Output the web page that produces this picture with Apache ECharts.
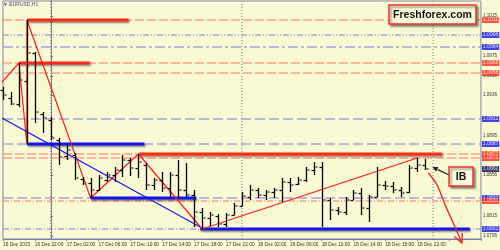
<!DOCTYPE html>
<html><head><meta charset="utf-8">
<script src="https://cdn.jsdelivr.net/npm/echarts@6/dist/echarts.min.js"></script>
<style>html,body{margin:0;padding:0;background:#f9f9d3}#c{width:500px;height:250px}</style>
</head><body><div id="c"></div>
<script>
const symbolTitle = '\u25BC EURUSD,H1';
const firstBarHour = -6; // 16 Dec 18:00, hours relative to 17 Dec 00:00
const barOpen  = [1.0941,1.0933,1.0927,1.0950,1.0978,1.0917,1.0911,1.0891,1.0875,1.0876,1.0852,1.0848,1.0841,1.0851,1.0856,1.0861,1.0871,1.0863,1.0866,1.0846,1.0851,1.0843,1.0856,1.0841,1.0836,1.0819,1.0813,1.0815,1.0807,1.0816,1.0825,1.0834,1.0841,1.0836,1.0839,1.0841,1.0849,1.0847,1.0851,1.0861,1.0864,1.0831,1.0821,1.0819,1.0831,1.0838,1.0823,1.0834,1.0846,1.0845,1.0841,1.0839,1.0863,1.0866];
const barHigh  = [1.0944,1.0939,1.0968,1.1011,1.0979,1.0919,1.0914,1.0893,1.0886,1.0878,1.0854,1.0853,1.0856,1.0859,1.0864,1.0876,1.0873,1.0877,1.0868,1.0853,1.0859,1.0859,1.0871,1.0868,1.0841,1.0823,1.0819,1.0817,1.0818,1.0828,1.0839,1.0846,1.0843,1.0841,1.0843,1.0853,1.0853,1.0854,1.0864,1.0869,1.0869,1.0833,1.0824,1.0834,1.0841,1.0843,1.0836,1.0864,1.0850,1.0849,1.0844,1.0866,1.0873,1.0872];
const barLow   = [1.0931,1.0926,1.0924,1.0887,1.0908,1.0898,1.0891,1.0866,1.0871,1.0851,1.0846,1.0833,1.0840,1.0849,1.0849,1.0854,1.0855,1.0853,1.0841,1.0841,1.0839,1.0834,1.0834,1.0834,1.0804,1.0802,1.0805,1.0804,1.0804,1.0816,1.0825,1.0831,1.0833,1.0831,1.0833,1.0829,1.0839,1.0846,1.0849,1.0856,1.0804,1.0811,1.0816,1.0816,1.0831,1.0816,1.0809,1.0834,1.0841,1.0838,1.0834,1.0838,1.0859,1.0861];
const barClose = [1.0936,1.0927,1.0951,1.0978,1.0919,1.0913,1.0893,1.0874,1.0881,1.0853,1.0848,1.0841,1.0853,1.0856,1.0861,1.0871,1.0863,1.0869,1.0846,1.0851,1.0843,1.0856,1.0841,1.0836,1.0819,1.0813,1.0816,1.0807,1.0816,1.0825,1.0835,1.0841,1.0836,1.0839,1.0841,1.0849,1.0846,1.0851,1.0861,1.0864,1.0831,1.0821,1.0819,1.0831,1.0838,1.0823,1.0834,1.0846,1.0845,1.0841,1.0838,1.0863,1.0866,1.0862];

const levelPrices = [1.1011, 1.0996, 1.0984, 1.0968, 1.0958, 1.0912, 1.0887, 1.0877, 1.0873, 1.0833, 1.0830, 1.0802];
const levelKinds  = ['r','b','b','r','r','b','b','r','r','b','r','b'];
const levelDashes = [[9,3],[6,2,1,2,1,2],[10,3,3,3],[9,3],[9,3],[10,4],[10,4],[9,3],[9,3],[10,4],[6,2,1,2],[6,2,1,2]];
const currentPrice = 1.0862;

const thickPrices = [1.1011, 1.0968, 1.0887, 1.0833, 1.0877, 1.0802];
const thickFrom   = [-3, -4, -3, 5, 11.1, 18.75];
const thickTo     = [9.75, 4.9, 11.75, 18.25, 49.1, 52.6];
const thickKinds  = ['r','r','b','b','r','b'];

const zigzagHour  = [-7, -4, -3, -3, 5, 11, 19, 46];
const zigzagPrice = [1.0941, 1.0968, 1.0887, 1.1011, 1.0833, 1.0877, 1.0802, 1.0873];
const trendHour  = [-6.125, 18.75];
const trendPrice = [1.0913, 1.0804];
const daySeparators = [0, 24, 48];
const priceTicks = [1.1015, 1.0975, 1.0955, 1.0936, 1.0895, 1.0856, 1.0815, 1.0795];
const lastLabelHour = 47;
const xMin = -6, xMax = 54, yMin = 1.0792, yMax = 1.1030;

const ibTip = [47.9, 1.0864], ibTail = [50, 1.0856], ibBox = [51.5, 1.08545];
const forecastHour  = [47.4, 48.5, 49.5, 50.75, 51.6];
const forecastPrice = [1.0858, 1.0846, 1.0826, 1.0804, 1.0788];

const barHours = barOpen.map((_, i) => firstBarHour + i);
const RED = '#ff2a1a', BLUE = '#1414f0', SALMON = '#ff7566', SLATE = '#7878e6';
const FONT = '"Liberation Sans", Arial, sans-serif';

function timeLabel(h) {
  if (h > lastLabelHour) return '';
  if (h === firstBarHour) return '16 Dec 2015';
  const day = 17 + Math.floor(h / 24);
  const hr = ((h % 24) + 24) % 24;
  return day + ' Dec ' + String(hr).padStart(2, '0') + ':00';
}

const series = [];
// day separators
daySeparators.forEach(h => series.push({
  type: 'line', data: [[h, yMin], [h, yMax]], symbol: 'none', silent: true, z: 1,
  lineStyle: { color: '#7a7a7a', type: [1, 2], width: 1 }
}));
// horizontal levels
levelPrices.forEach((p, i) => series.push({
  type: 'line', data: [[xMin, p], [xMax, p]], symbol: 'none', silent: true, z: 2,
  lineStyle: { color: levelKinds[i] === 'r' ? SALMON : SLATE, width: 1, type: levelDashes[i] }
}));
// thick segments
thickPrices.forEach((p, i) => series.push({
  type: 'line', data: [[thickFrom[i], p], [thickTo[i], p]], symbol: 'none', silent: true, z: 3,
  lineStyle: { color: thickKinds[i] === 'r' ? RED : BLUE, width: 3, shadowColor: 'rgba(0,0,0,0.45)', shadowBlur: 2, shadowOffsetX: 1, shadowOffsetY: 1.5 }
}));
series.push({
  type: 'line', data: zigzagHour.map((h, i) => [h, zigzagPrice[i]]), symbol: 'none', silent: true, z: 4,
  lineStyle: { color: '#ff1a1a', width: 1.2 }
});
series.push({
  type: 'line', data: trendHour.map((h, i) => [h, trendPrice[i]]), symbol: 'none', silent: true, z: 4,
  lineStyle: { color: '#1a1ae8', width: 1.2 }
});
series.push({
  type: 'custom', z: 5, silent: true,
  data: barOpen.map((o, i) => [barHours[i], o, barHigh[i], barLow[i], barClose[i]]),
  encode: { x: 0, y: [1, 2, 3, 4] },
  renderItem: (params, api) => {
    const h = api.value(0);
    const pH = api.coord([h, api.value(2)]), pL = api.coord([h, api.value(3)]);
    const pO = api.coord([h, api.value(1)]), pC = api.coord([h, api.value(4)]);
    const x = Math.round(pH[0]) + 0.5;
    return { type: 'group', children: [
      { type: 'line', shape: { x1: x, y1: pH[1], x2: x, y2: pL[1] }, style: { stroke: '#000', lineWidth: 1.3 } },
      { type: 'line', shape: { x1: x - 3, y1: Math.round(pO[1]) + 0.5, x2: x, y2: Math.round(pO[1]) + 0.5 }, style: { stroke: '#000', lineWidth: 1.2 } },
      { type: 'rect', shape: { x: x + 1, y: pC[1] - 1, width: 2, height: 2 }, style: { fill: '#6e6e6e' } }
    ] };
  }
});
// price boxes on the right scale
const boxItems = levelPrices.map((p, i) => ({ value: [xMax, p], bg: levelKinds[i] === 'r' ? RED : BLUE }));
boxItems.push({ value: [xMax, currentPrice], bg: '#0c0c60' });
series.push({
  type: 'scatter', clip: false, silent: true, z: 10, symbolSize: 0,
  data: boxItems.map(d => ({
    value: d.value,
    label: { show: true, position: 'right', distance: 1, formatter: d.value[1].toFixed(4),
      backgroundColor: d.bg, color: '#fff', fontSize: 5, fontFamily: FONT, padding: [1, 1, 0, 1], lineHeight: 5 }
  }))
});

const option = {
  backgroundColor: '#f9f9d3',
  animation: false,
  grid: { left: 1, right: 19, top: 1, bottom: 11, show: true, borderColor: '#8585b0', borderWidth: 1 },
  xAxis: {
    type: 'value', min: xMin, max: xMax, interval: 4,
    axisLine: { show: true, lineStyle: { color: '#7a7ab8' } },
    axisTick: { show: true, length: 2, lineStyle: { color: '#7a7ab8' } },
    splitLine: { show: false },
    axisLabel: { fontSize: 4.8, fontFamily: FONT, color: '#333', align: 'left', margin: 3, formatter: timeLabel }
  },
  yAxis: {
    type: 'value', position: 'right', min: yMin, max: yMax, scale: true,
    axisLine: { show: true, lineStyle: { color: '#7a7ab8' } },
    axisTick: { show: true, length: 2, customValues: priceTicks, lineStyle: { color: '#555' } },
    splitLine: { show: false },
    axisLabel: { fontSize: 4.6, fontFamily: FONT, color: '#333', margin: 2, customValues: priceTicks, formatter: v => v.toFixed(4) }
  },
  series: series
};

const chart = echarts.init(document.getElementById('c'), null, { renderer: 'canvas' });
chart.setOption(option);

const px = (h, p) => chart.convertToPixel({ gridIndex: 0 }, [h, p]);
const tip = px(ibTip[0], ibTip[1]), tail = px(ibTail[0], ibTail[1]), box = px(ibBox[0], ibBox[1]);
const ang = Math.atan2(tip[1] - tail[1], tip[0] - tail[0]);
const ah = 6, aw = 0.45;
const headBase = [tip[0] - ah * Math.cos(ang), tip[1] - ah * Math.sin(ang)];
const fpts = forecastHour.map((h, i) => px(h, forecastPrice[i]));
const fe = fpts[fpts.length - 1], fp = fpts[fpts.length - 2];
const fang = Math.atan2(fe[1] - fp[1], fe[0] - fp[0]);
const fl = 10, fa = 0.45;

chart.setOption({ graphic: [
  { type: 'text', left: 3, top: 2, style: { text: symbolTitle, fontSize: 5, fontFamily: FONT, fill: '#4a4a70' } },
  { type: 'rect', shape: { x: 389, y: 5, width: 87, height: 19 }, z: 100,
    style: { fill: '#fdfcdc', stroke: '#e83030', lineWidth: 1.5, shadowColor: 'rgba(0,0,0,0.4)', shadowBlur: 2, shadowOffsetX: 2, shadowOffsetY: 2 } },
  { type: 'text', x: 432.5, y: 14.8, z: 101,
    style: { text: 'Freshforex.com', fontSize: 10.5, fontWeight: 'bold', fontFamily: FONT, fill: '#111', align: 'center', verticalAlign: 'middle' } },
  { type: 'line', z: 100, shape: { x1: tail[0], y1: tail[1], x2: headBase[0], y2: headBase[1] }, style: { stroke: '#222', lineWidth: 1.2 } },
  { type: 'polygon', z: 100, shape: { points: [tip,
      [tip[0] - ah * Math.cos(ang - aw), tip[1] - ah * Math.sin(ang - aw)],
      [tip[0] - ah * Math.cos(ang + aw), tip[1] - ah * Math.sin(ang + aw)]] }, style: { fill: '#222' } },
  { type: 'rect', z: 100, shape: { x: box[0] - 12, y: box[1] - 9.5, width: 24, height: 19 },
    style: { fill: '#fdfcdc', stroke: '#e83030', lineWidth: 1.5, shadowColor: 'rgba(0,0,0,0.4)', shadowBlur: 2, shadowOffsetX: 2, shadowOffsetY: 2 } },
  { type: 'text', z: 101, x: box[0], y: box[1] + 0.5,
    style: { text: 'IB', fontSize: 10.5, fontWeight: 'bold', fontFamily: FONT, fill: '#111', align: 'center', verticalAlign: 'middle' } },
  { type: 'polyline', z: 100, shape: { points: fpts, smooth: 0.3 }, style: { stroke: '#ee2a2a', lineWidth: 1.4, fill: null } },
  { type: 'polyline', z: 100, shape: { points: [
      [fe[0] - fl * Math.cos(fang - fa), fe[1] - fl * Math.sin(fang - fa)], fe,
      [fe[0] - fl * Math.cos(fang + fa), fe[1] - fl * Math.sin(fang + fa)]] },
    style: { stroke: '#ee2a2a', lineWidth: 1.4, fill: null } }
] });
</script></body></html>
